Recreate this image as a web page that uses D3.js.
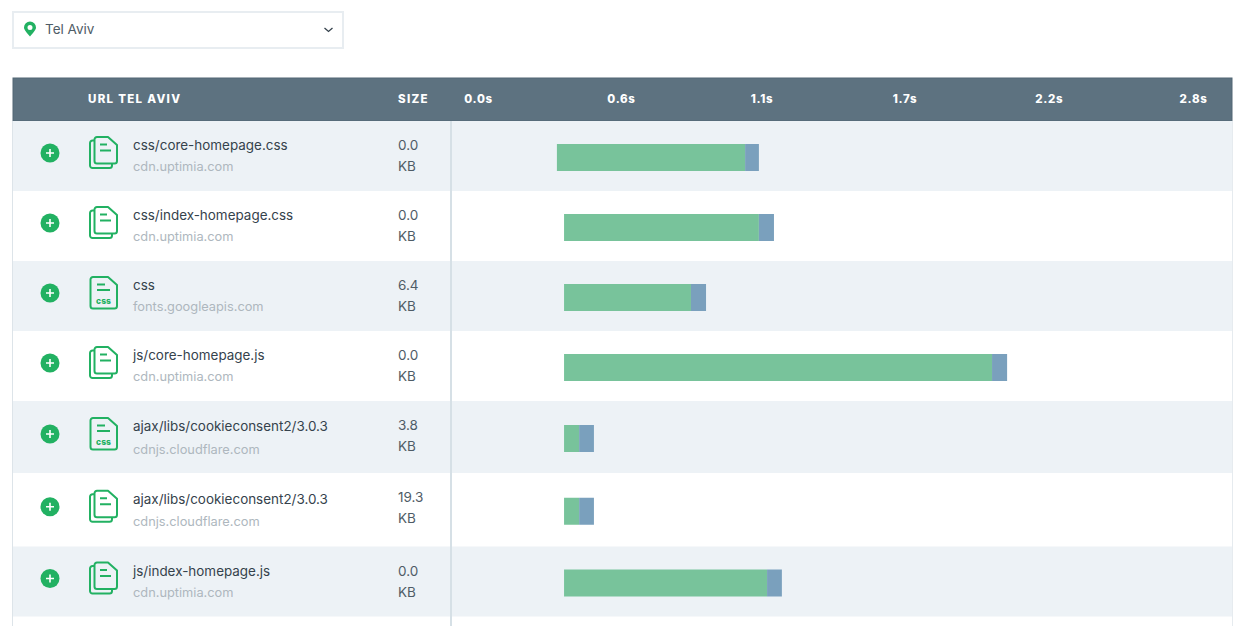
<!DOCTYPE html>
<html>
<head>
<meta charset="utf-8">
<script src="https://cdn.jsdelivr.net/npm/d3@7/dist/d3.min.js"></script>
<style>
  html, body { margin: 0; padding: 0; background: #fff; overflow: hidden; }
  svg { display: block; }
  text { font-family: Inter, "Open Sans", sans-serif; }
</style>
</head>
<body>
<svg id="chart"></svg>
<script>
// DATA
const location_name = "Tel Aviv";
const urlPaths = ["css/core-homepage.css", "css/index-homepage.css", "css", "js/core-homepage.js",
    "ajax/libs/cookieconsent2/3.0.3", "ajax/libs/cookieconsent2/3.0.3", "js/index-homepage.js"];
const hosts = ["cdn.uptimia.com", "cdn.uptimia.com", "fonts.googleapis.com", "cdn.uptimia.com",
    "cdnjs.cloudflare.com", "cdnjs.cloudflare.com", "cdn.uptimia.com"];
const sizesKb = ["0.0", "0.0", "6.4", "0.0", "3.8", "19.3", "0.0"];
const fileIcons = ["stack", "stack", "css", "stack", "css", "stack", "stack"];
// seconds
const startTimes = [0.309, 0.337, 0.337, 0.337, 0.337, 0.337, 0.337];
const waitEnds = [1.046, 1.100, 0.834, 2.013, 0.396, 0.396, 1.132];
const loadEnds = [1.100, 1.159, 0.893, 2.072, 0.454, 0.454, 1.190];
const tickValues = [0, 0.56, 1.11, 1.67, 2.235, 2.8];
const tickLabels = ["0.0s", "0.6s", "1.1s", "1.7s", "2.2s", "2.8s"];

// LAYOUT
const width = 1240;
const height = 626;
const tableLeft = 13;
const tableRight = 1232;
const headerTop = 78;
const headerBottom = 121;
const rowHeights = [70, 70, 70, 70, 72, 73.5, 70];
const hostExtra = [0, 0, 0, 0, 3, 3, 0]; // wrapped rows push the host line down a bit
const barHeight = 27;

const colors = {
    header: "#5d7280",
    headerEdge: "#526775",
    band: "#edf2f6",
    line: "#d6e0e6",
    green: "#22b162",
    wait: "#78c39b",
    load: "#7aa0bd",
    text: "#35424c",
    size: "#4f5c66",
    host: "#aeb7be"
};

const svg = d3.select("#chart").attr("width", width).attr("height", height);

const xScale = d3.scaleLinear().domain([0, 2.8]).range([478, 1193]);

const rowTops = rowHeights.map((h, i) => headerBottom + d3.sum(rowHeights.slice(0, i)));
const rows = urlPaths.map((path, i) => ({
    path,
    host: hosts[i],
    size: sizesKb[i],
    icon: fileIcons[i],
    start: startTimes[i],
    wait: waitEnds[i],
    end: loadEnds[i],
    top: rowTops[i],
    h: rowHeights[i],
    hostExtra: hostExtra[i],
    odd: i % 2 === 0
}));

// --------------- LOCATION SELECT ---------------
const select = svg.append("g");
select.append("rect")
    .attr("x", 13).attr("y", 12).attr("width", 330).attr("height", 36)
    .attr("fill", "#fff").attr("stroke", "#e8edf1").attr("stroke-width", 2);
select.append("path")
    .attr("transform", "translate(30,29)")
    .attr("fill", colors.green)
    .attr("fill-rule", "evenodd")
    .attr("d", "M0 7.5C-3.5 3.5 -6 0.8 -6 -1.5A6 6 0 0 1 6 -1.5C6 0.8 3.5 3.5 0 7.5ZM0 -4A2.5 2.5 0 1 0 0 1A2.5 2.5 0 1 0 0 -4Z");
select.append("text")
    .attr("x", 45).attr("y", 34)
    .attr("font-size", 13.5).attr("fill", colors.size)
    .text(location_name);
select.append("path")
    .attr("d", "M324.5 28L328.5 31.5L332.5 28")
    .attr("fill", "none").attr("stroke", colors.text).attr("stroke-width", 1.3);

// --------------- TABLE FRAME ---------------
svg.append("rect")
    .attr("x", tableLeft).attr("y", headerTop)
    .attr("width", tableRight - tableLeft).attr("height", headerBottom - headerTop)
    .attr("fill", colors.header)
    .attr("stroke", colors.headerEdge);

const rowGroups = svg.selectAll("g.row").data(rows).join("g")
    .attr("class", "row")
    .attr("transform", d => `translate(0,${d.top})`);

rowGroups.filter(d => d.odd).append("rect")
    .attr("x", tableLeft)
    .attr("width", tableRight - tableLeft)
    .attr("height", d => d.h)
    .attr("fill", colors.band);

svg.append("line")
    .attr("x1", 451).attr("x2", 451).attr("y1", headerBottom).attr("y2", height)
    .attr("stroke", colors.line).attr("stroke-width", 2);
svg.append("line")
    .attr("x1", 12.5).attr("x2", 12.5).attr("y1", headerBottom).attr("y2", height)
    .attr("stroke", "#dde4e9");
svg.append("line")
    .attr("x1", 1232.5).attr("x2", 1232.5).attr("y1", headerBottom).attr("y2", height)
    .attr("stroke", "#e6ebef");

// --------------- HEADER ---------------
const headerText = (x, label) => svg.append("text")
    .attr("x", x).attr("y", 103)
    .attr("fill", "#fff").attr("font-size", 11.5).attr("font-weight", 800)
    .attr("letter-spacing", 1.3)
    .text(label);
headerText(88, "URL TEL AVIV");
headerText(398, "SIZE");

const axis = svg.append("g")
    .attr("transform", `translate(0,${headerTop + 25})`)
    .call(d3.axisTop(xScale)
        .tickValues(tickValues)
        .tickFormat((d, i) => tickLabels[i])
        .tickSize(0)
        .tickPadding(0));
axis.select(".domain").remove();
axis.selectAll("text")
    .attr("fill", "#fff")
    .attr("dy", 0)
    .attr("font-size", 11.5).attr("font-weight", 800)
    .attr("letter-spacing", 0.7)
    .style("font-family", "Inter, sans-serif");

// --------------- ROW CONTENT ---------------
const plus = rowGroups.append("g")
    .attr("transform", d => `translate(50,${d.h / 2 - 3})`);
plus.append("circle").attr("r", 9.5).attr("fill", colors.green);
plus.append("path")
    .attr("d", "M-4 0H4M0 -4V4")
    .attr("stroke", "#fff").attr("stroke-width", 1.6);

const icons = rowGroups.append("g")
    .attr("transform", d => `translate(89,${d.h / 2 - 20})`)
    .attr("fill", "none")
    .attr("stroke", colors.green)
    .attr("stroke-width", 2)
    .attr("stroke-linejoin", "round");

icons.filter(d => d.icon === "stack").each(function () {
    const g = d3.select(this);
    g.append("path").attr("d", "M8 1H19L28 9V25A2.5 2.5 0 0 1 25.5 27.5H8A2.5 2.5 0 0 1 5.5 25V3.5A2.5 2.5 0 0 1 8 1Z");
    g.append("path").attr("d", "M5.5 4.5H3.5A2.5 2.5 0 0 0 1 7V29.5A2.5 2.5 0 0 0 3.5 32H20.5A2.5 2.5 0 0 0 23 29.5V27.5");
    g.append("path").attr("d", "M11 8.5H18M11 14.5H22");
});

icons.filter(d => d.icon === "css").each(function () {
    const g = d3.select(this);
    g.append("path").attr("d", "M4 1H19L28 9V30A2.5 2.5 0 0 1 25.5 32.5H4A2.5 2.5 0 0 1 1.5 30V3.5A2.5 2.5 0 0 1 4 1Z");
    g.append("path").attr("d", "M8 8.5H16M8 14H21");
    g.append("text")
        .attr("x", 14.5).attr("y", 27.5)
        .attr("text-anchor", "middle")
        .attr("font-size", 8.5).attr("font-weight", 800)
        .attr("fill", colors.green).attr("stroke", "none")
        .text("css");
});

rowGroups.append("text")
    .attr("x", 133).attr("y", d => d.h / 2 - 6)
    .attr("font-size", 13.45).attr("fill", colors.text)
    .text(d => d.path);
rowGroups.append("text")
    .attr("x", 133).attr("y", d => 50 + d.hostExtra)
    .attr("font-size", 12.8).attr("fill", colors.host)
    .text(d => d.host);

rowGroups.append("text")
    .attr("x", 398).attr("y", 29)
    .attr("font-size", 13.5).attr("fill", colors.size)
    .text(d => d.size);
rowGroups.append("text")
    .attr("x", 398).attr("y", 50)
    .attr("font-size", 13.5).attr("fill", colors.size)
    .text("KB");

// --------------- BARS ---------------
rowGroups.append("rect")
    .attr("x", d => xScale(d.start))
    .attr("y", d => d.h / 2 - 12)
    .attr("width", d => xScale(d.wait) - xScale(d.start))
    .attr("height", barHeight)
    .attr("fill", colors.wait);
rowGroups.append("rect")
    .attr("x", d => xScale(d.wait))
    .attr("y", d => d.h / 2 - 12)
    .attr("width", d => xScale(d.end) - xScale(d.wait))
    .attr("height", barHeight)
    .attr("fill", colors.load);
</script>
</body>
</html>
